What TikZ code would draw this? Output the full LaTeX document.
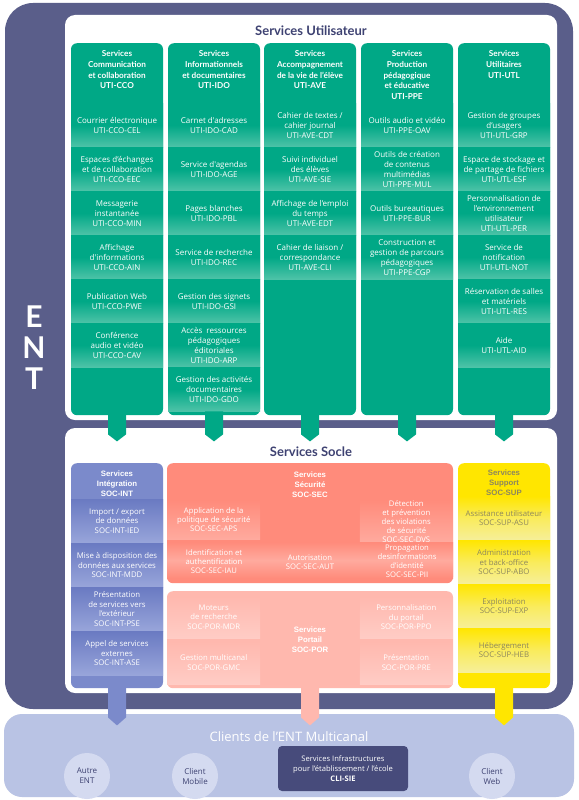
\documentclass[tikz,border=0pt]{standalone}
\usepackage{fontspec}
\setmainfont{Lato}
\newfontfamily\arialfont{Liberation Sans}
\newfontfamily\itemfont{Open Sans}
\definecolor{frame}{HTML}{5A5E8A}
\definecolor{navy}{HTML}{3E4272}
\definecolor{grn}{HTML}{00A886}
\definecolor{grnl}{HTML}{4EC3A8}
\definecolor{blu}{HTML}{7B8ACB}
\definecolor{blud}{HTML}{6A7AC2}
\definecolor{blul}{HTML}{98A5DA}
\definecolor{sec}{HTML}{FF8B7B}
\definecolor{secl}{HTML}{FFAA9E}
\definecolor{por}{HTML}{FFB8AE}
\definecolor{porl}{HTML}{FFCCC5}
\definecolor{yel}{HTML}{FFE600}
\definecolor{yell}{HTML}{F6EF9A}
\definecolor{yeltxt}{HTML}{8C865E}
\definecolor{cli}{HTML}{B9C3E4}
\definecolor{cir}{HTML}{D4DAF0}
\definecolor{clibox}{HTML}{474B7B}
\tikzset{
  panel/.style={fill=white, rounded corners=10pt, minimum width=492pt, inner sep=0pt},
  ptitle/.style={text=navy, font=\fontsize{13}{15}\selectfont\bfseries, inner sep=0pt},
  colbox/.style={fill=grn, rounded corners=6pt, minimum width=92pt, minimum height=372pt, anchor=north, inner sep=0pt},
  hdr/.style={text=white, font=\fontsize{8.2}{10.7}\selectfont\bfseries, align=center, anchor=north, inner sep=0pt},
  gband/.style={minimum width=92pt, minimum height=44pt, anchor=north, inner sep=0pt,
    top color=grn, bottom color=grnl, middle color=grn, text=white,
    font=\itemfont\fontsize{8}{10}\selectfont, align=center},
  blk/.style={rounded corners=6pt, anchor=north, inner sep=0pt},
  shdr/.style={text=white, font=\arialfont\fontsize{7.8}{9.8}\selectfont\bfseries, align=center, inner sep=0pt},
  bband/.style={minimum width=92pt, minimum height=44pt, anchor=north, inner sep=0pt,
    top color=blud, bottom color=blul, text=white,
    font=\itemfont\fontsize{7.8}{9.6}\selectfont, align=center},
  sband/.style={minimum width=93pt, minimum height=39pt, inner sep=0pt,
    top color=sec, bottom color=secl, text=white,
    font=\itemfont\fontsize{7.7}{9}\selectfont, align=center},
  stxt/.style={text=white, font=\itemfont\fontsize{7.7}{9}\selectfont, align=center, inner sep=0pt},
  pband/.style={minimum width=93pt, minimum height=43pt, inner sep=0pt,
    top color=por, bottom color=porl, text=white,
    font=\itemfont\fontsize{7.7}{9.5}\selectfont, align=center},
  yband/.style={minimum width=92pt, minimum height=44pt, anchor=north, inner sep=0pt,
    top color=yel, bottom color=yell, middle color=yel!40!yell, text=yeltxt,
    font=\itemfont\fontsize{7.8}{9.6}\selectfont, align=center},
  entl/.style={text=white, font=\fontsize{30}{30}\selectfont\bfseries, inner sep=0pt},
  client/.style={circle, fill=cir, minimum size=46pt, inner sep=0pt, text=navy,
    font=\itemfont\fontsize{8}{10}\selectfont, align=center},
}
\begin{document}
\begin{tikzpicture}[x=1pt,y=-1pt]
\useasboundingbox (0,0) rectangle (578,800);
\fill[white] (0,0) rectangle (578,800);
% outer ENT frame
\fill[frame, rounded corners=28pt] (5,3) rectangle (573,709);
\node[entl] (entE) at (34,317) {E};
\node[entl] (entN) at (34,348) {N};
\node[entl] (entT) at (34,379) {T};
% clients panel
\fill[cli, rounded corners=18pt] (4,714) rectangle (574,797);

% ---------------- Services Utilisateur
\node[panel, minimum height=405pt] (util) at (311,217.5) {};
\node[ptitle] (utilT) at (311,31) {Services Utilisateur};

\node[colbox] (c1) at (117,43) {};
\node[colbox] (c2) at (214,43) {};
\node[colbox] (c3) at (310,43) {};
\node[colbox] (c4) at (407,43) {};
\node[colbox] (c5) at (504,43) {};

\node[hdr] (h1) at (117,50.5) {Services\\Communication\\et collaboration\\UTI-CCO};
\node[hdr] (h2) at (214,50.5) {Services\\Informationnels\\et documentaires\\UTI-IDO};
\node[hdr] (h3) at (310,50.5) {Services\\Accompagnement\\de la vie de l’élève\\UTI-AVE};
\node[hdr] (h4) at (407,50.5) {Services\\Production\\pédagogique\\et éducative\\UTI-PPE};
\node[hdr] (h5) at (504,50.5) {Services\\Utilitaires\\UTI-UTL};

% column 1
\node[gband] (c1a) at (117,103) {Courrier électronique\\UTI-CCO-CEL};
\node[gband] (c1b) at (117,147) {Espaces d’échanges\\et de collaboration\\UTI-CCO-EEC};
\node[gband] (c1c) at (117,191) {Messagerie\\instantanée\\UTI-CCO-MIN};
\node[gband] (c1d) at (117,235) {Affichage\\d'informations\\UTI-CCO-AIN};
\node[gband] (c1e) at (117,279) {Publication Web\\UTI-CCO-PWE};
\node[gband] (c1f) at (117,323) {Conférence\\audio et vidéo\\UTI-CCO-CAV};
% column 2
\node[gband] (c2a) at (214,103) {Carnet d'adresses\\UTI-IDO-CAD};
\node[gband] (c2b) at (214,147) {Service d'agendas\\UTI-IDO-AGE};
\node[gband] (c2c) at (214,191) {Pages blanches\\UTI-IDO-PBL};
\node[gband] (c2d) at (214,235) {Service de recherche\\UTI-IDO-REC};
\node[gband] (c2e) at (214,279) {Gestion des signets\\UTI-IDO-GSI};
\node[gband] (c2f) at (214,323) {Accès\ \ ressources\\pédagogiques\\éditoriales\\UTI-IDO-ARP};
\node[gband] (c2g) at (214,367) {Gestion des activités\\documentaires\\UTI-IDO-GDO};
% column 3
\node[gband] (c3a) at (310,103) {Cahier de textes /\\cahier journal\\UTI-AVE-CDT};
\node[gband] (c3b) at (310,147) {Suivi individuel\\des élèves\\UTI-AVE-SIE};
\node[gband] (c3c) at (310,191) {Affichage de l’emploi\\du temps\\UTI-AVE-EDT};
\node[gband] (c3d) at (310,235) {Cahier de liaison /\\correspondance\\UTI-AVE-CLI};
% column 4
\node[gband] (c4a) at (407,103) {Outils audio et vidéo\\UTI-PPE-OAV};
\node[gband] (c4b) at (407,147) {Outils de création\\de contenus\\multimédias\\UTI-PPE-MUL};
\node[gband] (c4c) at (407,191) {Outils bureautiques\\UTI-PPE-BUR};
\node[gband] (c4d) at (407,235) {Construction et\\gestion de parcours\\pédagogiques\\UTI-PPE-CGP};
% column 5
\node[gband] (c5a) at (504,103) {Gestion de groupes\\d’usagers\\UTI-UTL-GRP};
\node[gband] (c5b) at (504,147) {Espace de stockage et\\de partage de fichiers\\UTI-UTL-ESF};
\node[gband] (c5c) at (504,191) {Personnalisation de\\l’environnement\\utilisateur\\UTI-UTL-PER};
\node[gband] (c5d) at (504,235) {Service de\\notification\\UTI-UTL-NOT};
\node[gband] (c5e) at (504,279) {Réservation de salles\\et matériels\\UTI-UTL-RES};
\node[gband] (c5f) at (504,323) {Aide\\UTI-UTL-AID};

% ---------------- Services Socle
\node[panel, minimum height=265pt] (socle) at (311,560.5) {};
\node[ptitle] (socleT) at (311,452) {Services Socle};

% Intégration
\node[blk, fill=blu, minimum width=92pt, minimum height=225pt] (int) at (117,463) {};
\node[shdr] (intH) at (117,484) {Services\\Intégration\\SOC-INT};
\node[bband] (inta) at (117,499) {Import / export\\de données\\SOC-INT-IED};
\node[bband] (intb) at (117,543) {Mise à disposition des\\données aux services\\SOC-INT-MDD};
\node[bband] (intc) at (117,587) {Présentation\\de services vers\\l’extérieur\\SOC-INT-PSE};
\node[bband] (intd) at (117,631) {Appel de services\\externes\\SOC-INT-ASE};

% Sécurité
\node[blk, fill=sec, minimum width=286pt, minimum height=120pt] (secu) at (310,463) {};
\node[shdr] (secH) at (310,485) {Services\\Sécurité\\SOC-SEC};
\node[sband, anchor=north west] (aps) at (167,500) {Application de la\\politique de sécurité\\SOC-SEC-APS};
\node[sband, anchor=north east] (dvs) at (453,500) {Détection\\et prévention\\des violations\\de sécurité\\SOC-SEC-DVS};
\node[minimum width=286pt, minimum height=36pt, inner sep=0pt, anchor=north,
      top color=sec, bottom color=sec, middle color=secl] (row2) at (310,542) {};
\node[stxt] (iau) at (214,562) {Identification et\\authentification\\SOC-SEC-IAU};
\node[stxt] (aut) at (310,562) {Autorisation\\SOC-SEC-AUT};
\node[stxt] (pii) at (407,561.5) {Propagation\\desinformations\\d’identité\\SOC-SEC-PII};

% Portail
\node[blk, fill=por, minimum width=286pt, minimum height=97pt] (port) at (310,591) {};
\node[shdr] (porH) at (310,640) {Services\\Portail\\SOC-POR};
\node[pband, anchor=north west, minimum height=42pt] (mdr) at (167,596) {Moteurs\\de recherche\\SOC-POR-MDR};
\node[pband, anchor=north west] (gmc) at (167,641) {Gestion multicanal\\SOC-POR-GMC};
\node[pband, anchor=north east, minimum height=42pt] (ppo) at (453,596) {Personnalisation\\du portail\\SOC-POR-PPO};
\node[pband, anchor=north east] (pre) at (453,641) {Présentation\\SOC-POR-PRE};

% Support
\node[blk, fill=yel, minimum width=92pt, minimum height=225pt] (sup) at (504,463) {};
\node[shdr, text=yeltxt] (supH) at (504,483) {Services\\Support\\SOC-SUP};
\node[yband] (supa) at (504,496) {Assistance utilisateur\\SOC-SUP-ASU};
\node[yband] (supb) at (504,540) {Administration\\et back-office\\SOC-SUP-ABO};
\node[yband] (supc) at (504,584) {Exploitation\\SOC-SUP-EXP};
\node[yband] (supd) at (504,628) {Hébergement\\SOC-SUP-HEB};

% ---------------- arrows (tabs)
\foreach \c in {c1,c2,c3,c4,c5}{
  \fill[grn] (\c.south) ++(-9,-4) -- ++(18,0) -- ++(0,23) -- ++(-9,7) -- ++(-9,-7) -- cycle;
}
\fill[blu] (int.south) ++(-9,-4) -- ++(18,0) -- ++(0,33) -- ++(-9,8) -- ++(-9,-8) -- cycle;
\fill[por] (port.south) ++(-9,-4) -- ++(18,0) -- ++(0,33) -- ++(-9,8) -- ++(-9,-8) -- cycle;
\fill[yel] (sup.south) ++(-9,-4) -- ++(18,0) -- ++(0,33) -- ++(-9,8) -- ++(-9,-8) -- cycle;

% ---------------- Clients
\node[text=white, font=\itemfont\fontsize{13}{15}\selectfont, inner sep=0pt] (cliT) at (289,737) {Clients de l’ENT Multicanal};
\node[client] (autre) at (87,776) {Autre\\ENT};
\node[client] (mobile) at (195,776) {Client\\Mobile};
\node[client] (web) at (492,776) {Client\\Web};
\node[fill=clibox, rounded corners=4pt, minimum width=130pt, minimum height=45pt, inner sep=0pt,
      text=white, align=center, font=\itemfont\fontsize{7.6}{10}\selectfont] (sie) at (343,768.5)
      {Services Infrastructures\\pour l’établissement / l’école\\\textbf{CLI-SIE}};
\end{tikzpicture}
\end{document}
